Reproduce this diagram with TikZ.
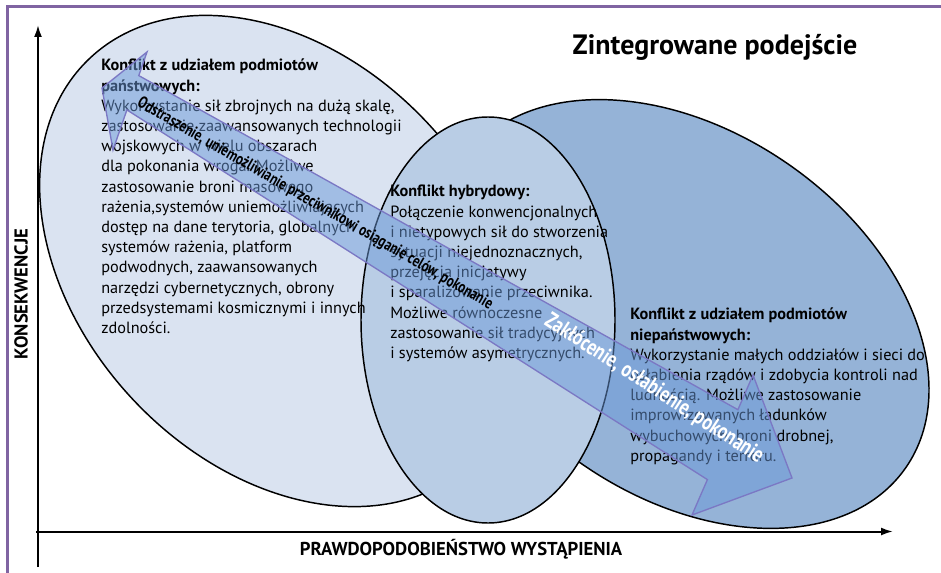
\documentclass[tikz,border=0pt]{standalone}
\usepackage{fontspec}
\setmainfont{PT Sans}
\newfontfamily\waskifont[FakeStretch=0.78]{PT Sans}
\usetikzlibrary{arrows.meta}

\definecolor{ramka}{HTML}{8064A2}
\definecolor{jasny}{HTML}{DAE3F1}
\definecolor{sredni}{HTML}{B9CDE5}
\definecolor{ciemny}{HTML}{95B3D7}
\definecolor{strzalka}{HTML}{6A98D8}
\definecolor{krawedz}{HTML}{7B78C4}

\begin{document}
\begin{tikzpicture}[x=0.75pt,y=-0.75pt,
  opis/.style={anchor=north west, inner sep=0pt, align=left,
    font=\fontsize{12.2}{15.15}\selectfont},
  obszar/.style={draw=black, line width=1.1pt},
  os/.style={line width=1.5pt, -{Latex[length=9pt,width=6pt]}},
  etykieta/.style={font=\bfseries\fontsize{14}{16}\selectfont}]
  \useasboundingbox (0,0) rectangle (941,573);

  % ramka
  \draw[ramka, line width=2.25pt] (7,573) -- (7,7) -- (941,7);

  % obszary konfliktow
  \draw[obszar, fill=jasny, rotate around={-47:(280,261)}] (280,261) ellipse [x radius=278, y radius=202];
  \draw[obszar, fill=ciemny, rotate around={-34.9:(685,314)}] (685,314) ellipse [x radius=269, y radius=182];
  \draw[obszar, fill=sredni] (488,320) ellipse [x radius=127, y radius=203];

  % osie
  \coordinate (poczatek) at (38,567);
  \coordinate (gora) at (38,25);
  \coordinate (lewo) at (36,531.5);
  \coordinate (prawo) at (893,531.5);
  \draw[os] (poczatek) -- (gora);
  \draw[os] (lewo) -- (prawo);
  \node[etykieta, rotate=90] (konsekwencje) at (21,294) {KONSEKWENCJE};
  \node[etykieta] (prawdopodobienstwo) at (461,549) {PRAWDOPODOBIEŃSTWO WYSTĄPIENIA};
  \node[font=\bfseries\fontsize{21}{24}\selectfont] (tytul) at (715,47) {Zintegrowane podejście};

  % opisy
  \node[opis] (panstwowy) at (101,59) {\textbf{Konflikt z udziałem podmiotów}\\
    \textbf{państwowych:}\\
    Wykorzystanie sił zbrojnych na dużą skalę,\\
    zastosowanie zaawansowanych technologii\\
    wojskowych w wielu obszarach\\
    dla pokonania wroga. Możliwe\\
    zastosowanie broni masowego\\
    rażenia,systemów uniemożliwiających\\
    dostęp na dane terytoria, globalnych\\
    systemów rażenia, platform\\
    podwodnych, zaawansowanych\\
    narzędzi cybernetycznych, obrony\\
    przedsystemami kosmicznymi i innych\\
    zdolności.};
  \node[opis] (hybrydowy) at (390,185) {\textbf{Konflikt hybrydowy:}\\
    Połączenie konwencjonalnych\\
    i nietypowych sił do stworzenia\\
    sytuacji niejednoznacznych,\\
    przejęcia inicjatywy\\
    i sparaliżowanie przeciwnika.\\
    Możliwe równoczesne\\
    zastosowanie sił tradycyjnych\\
    i systemów asymetrycznych.};
  \node[opis] (niepanstwowy) at (630,308) {\textbf{Konflikt z udziałem podmiotów}\\
    \textbf{niepaństwowych:}\\
    Wykorzystanie małych oddziałów i sieci do\\
    osłabienia rządów i zdobycia kontroli nad\\
    ludnością. Możliwe zastosowanie\\
    improwizowanych ładunków\\
    wybuchowych, broni drobnej,\\
    propagandy i terroru.};

  % strzalka dwukierunkowa
  \draw[fill=strzalka, fill opacity=0.5, draw=krawedz, line width=1pt]
    (102,88) -- (147,52) -- (138.8,75.6) -- (737.9,409.7) -- (753,375)
    -- (792,478) -- (692,515) -- (707.4,479.6) -- (126.9,109.9) -- (113,150) -- cycle;
  \node[font=\waskifont\bfseries\fontsize{12.5}{14}\selectfont, rotate=-30] (odstraszenie) at (315,204)
    {Odstraszenie, uniemożliwianie przeciwnikowi osiąganie celów, pokonanie};
  \node[font=\waskifont\bfseries\fontsize{17}{19}\selectfont, text=white, rotate=-33] (zaklocenie) at (654,389)
    {Zakłócenie, osłabienie, pokonanie};
\end{tikzpicture}
\end{document}
